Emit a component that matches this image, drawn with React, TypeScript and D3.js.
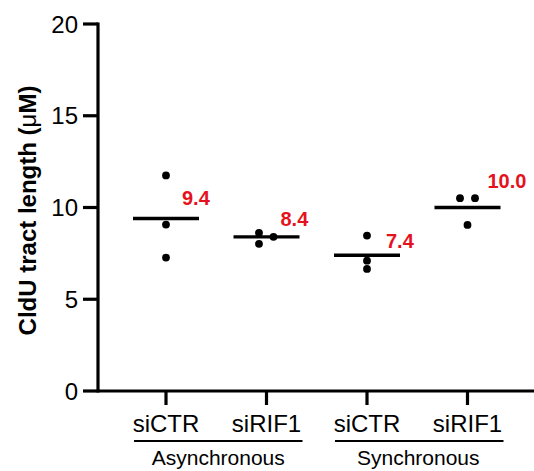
import { useEffect, useRef } from "react"
import * as d3 from "d3"

// values
const categories = ["siCTR", "siRIF1", "siCTR", "siRIF1"]
const groups = ["Asynchronous", "Synchronous"]
const replicates = [
  [11.75, 9.07, 7.27],
  [8.62, 8.02, 8.4],
  [8.47, 7.1, 6.65],
  [10.51, 10.51, 9.05],
]
const means = [9.4, 8.4, 7.4, 10.0]
const meanLabels = ["9.4", "8.4", "7.4", "10.0"]
const yTicks = [0, 5, 10, 15, 20]

// layout tweaks (px): horizontal jitter of dots, label offsets from the mean line
const dotJitter = [
  [0, 0, 0],
  [-7.5, -7.5, 7],
  [0, 0, 0],
  [-7.5, 7.5, 0],
]
const labelDx = [16, 14, 19, 20]
const labelDy = [-13.5, -11, -7, -19.5]

const FONT = "'Liberation Sans', Arial, sans-serif"
const RED = "#e5121d"

export default function App() {
  const svgRef = useRef<SVGSVGElement>(null)

  useEffect(() => {
    if (!svgRef.current) return
    const svg = d3.select(svgRef.current)
    svg.selectAll("*").remove()

    const width = 534
    const axisX = 98
    const yScale = d3.scaleLinear().domain([0, 20]).range([391, 24])
    const xScale = d3
      .scalePoint<number>()
      .domain(d3.range(categories.length))
      .range([166, 467.5])

    const g = svg.append("g").attr("font-family", FONT)

    // y axis
    g.append("line")
      .attr("x1", axisX)
      .attr("x2", axisX)
      .attr("y1", yScale(20) - 1.5)
      .attr("y2", yScale(0) + 1.5)
      .attr("stroke", "#000")
      .attr("stroke-width", 3.2)

    const yt = g.selectAll("g.ytick").data(yTicks).join("g").attr("class", "ytick")
    yt.append("line")
      .attr("x1", axisX - 15)
      .attr("x2", axisX)
      .attr("y1", (d) => yScale(d))
      .attr("y2", (d) => yScale(d))
      .attr("stroke", "#000")
      .attr("stroke-width", 3.2)
    yt.append("text")
      .attr("x", axisX - 20)
      .attr("y", (d) => yScale(d))
      .attr("dy", "0.36em")
      .attr("text-anchor", "end")
      .attr("font-size", 24)
      .text((d) => d)

    // x axis
    g.append("line")
      .attr("x1", axisX)
      .attr("x2", width)
      .attr("y1", yScale(0))
      .attr("y2", yScale(0))
      .attr("stroke", "#000")
      .attr("stroke-width", 3.2)

    const xt = g.selectAll("g.xtick").data(categories).join("g").attr("class", "xtick")
    xt.append("line")
      .attr("x1", (_, i) => xScale(i)!)
      .attr("x2", (_, i) => xScale(i)!)
      .attr("y1", yScale(0))
      .attr("y2", yScale(0) + 14)
      .attr("stroke", "#000")
      .attr("stroke-width", 3.2)
    xt.append("text")
      .attr("x", (_, i) => xScale(i)!)
      .attr("y", 432)
      .attr("text-anchor", "middle")
      .attr("font-size", 24)
      .text((d) => d)

    // group brackets
    groups.forEach((name, gi) => {
      const c0 = xScale(gi * 2)!
      const c1 = xScale(gi * 2 + 1)!
      g.append("line")
        .attr("x1", c0 - 32)
        .attr("x2", c1 + 36)
        .attr("y1", 441)
        .attr("y2", 441)
        .attr("stroke", "#000")
        .attr("stroke-width", 2)
      g.append("text")
        .attr("x", (c0 + c1) / 2 + (gi === 0 ? 2 : 1))
        .attr("y", 465)
        .attr("text-anchor", "middle")
        .attr("font-size", 21)
        .text(name)
    })

    // y title
    const title = g
      .append("text")
      .attr("transform", `translate(28, ${yScale(10) + 3}) rotate(-90)`)
      .attr("text-anchor", "middle")
      .attr("dy", "0.35em")
      .attr("font-size", 24)
      .attr("font-weight", "bold")
    title.append("tspan").text("CldU tract length (")
    title.append("tspan").attr("font-weight", "normal").text("\u03bc")
    title.append("tspan").text("M)")

    // mean lines
    g.selectAll("line.mean")
      .data(means)
      .join("line")
      .attr("class", "mean")
      .attr("x1", (_, i) => xScale(i)! - 33)
      .attr("x2", (_, i) => xScale(i)! + 33)
      .attr("y1", (d) => yScale(d))
      .attr("y2", (d) => yScale(d))
      .attr("stroke", "#000")
      .attr("stroke-width", 3.4)

    // dots
    replicates.forEach((vals, i) => {
      g.selectAll(`circle.c${i}`)
        .data(vals)
        .join("circle")
        .attr("class", `c${i}`)
        .attr("cx", (_, j) => xScale(i)! + dotJitter[i][j])
        .attr("cy", (d) => yScale(d))
        .attr("r", 3.9)
        .attr("fill", "#000")
    })

    // mean labels
    g.selectAll("text.meanlabel")
      .data(means)
      .join("text")
      .attr("class", "meanlabel")
      .attr("x", (_, i) => xScale(i)! + labelDx[i])
      .attr("y", (d, i) => yScale(d) + labelDy[i])
      .attr("font-size", 20)
      .attr("font-weight", "bold")
      .attr("fill", RED)
      .text((_, i) => meanLabels[i])
  }, [])

  return (
    <svg
      ref={svgRef}
      width={534}
      height={471}
      style={{ position: "absolute", left: 0, top: 0, background: "#fff" }}
    />
  )
}
